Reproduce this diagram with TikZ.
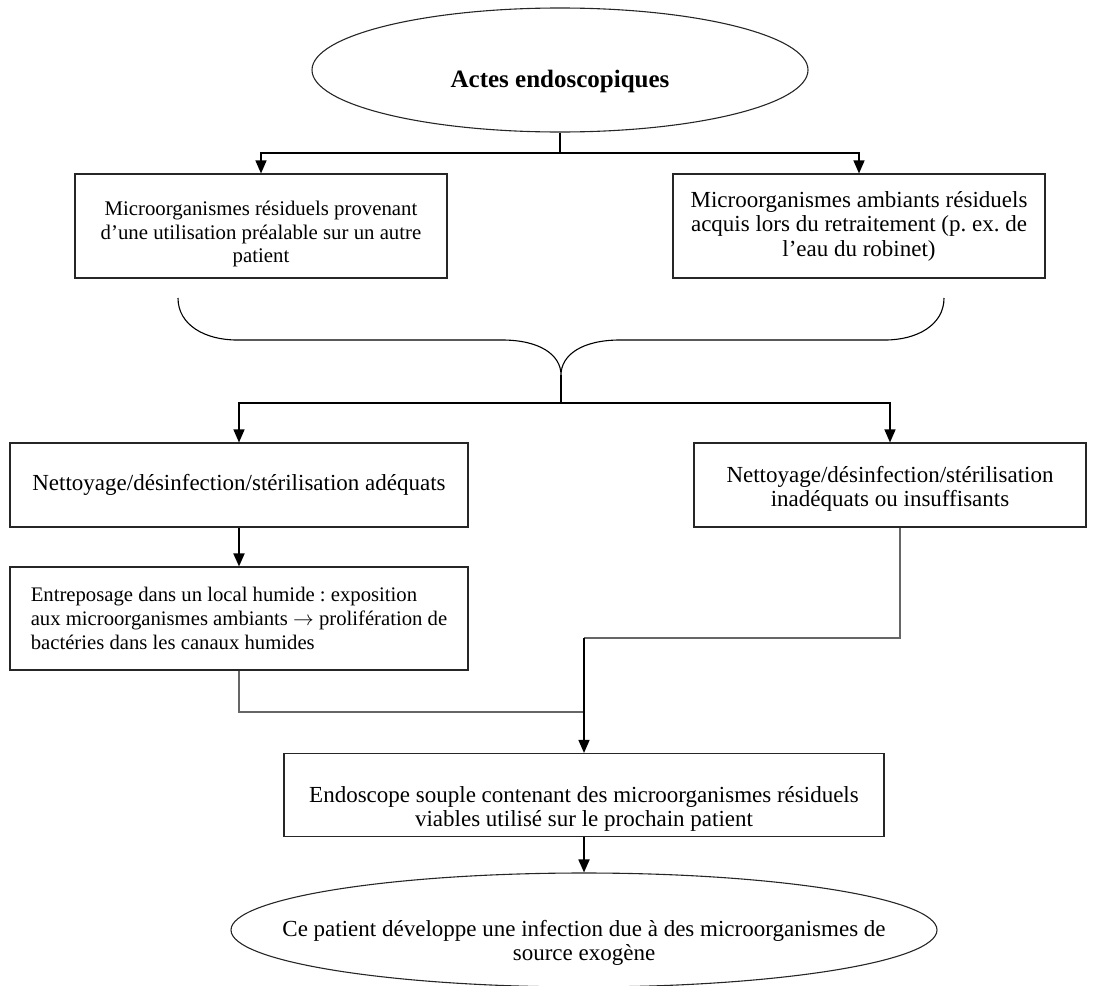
\documentclass[tikz,border=0pt]{standalone}
\usepackage{fontspec}
\setmainfont{Liberation Serif}
\usetikzlibrary{shapes.geometric, arrows.meta}

\newcommand{\boxfont}{\fontsize{23}{24.5}\selectfont\frenchspacing}
\newcommand{\smallboxfont}{\fontsize{20.8}{23.5}\selectfont\frenchspacing}
\newcommand{\textdrop}[1]{\rule{0pt}{#1}}

\begin{document}
\begin{tikzpicture}[x=1pt, y=-1pt]
    % Define styles for boxes and links
    \tikzset{
        stepbox/.style={draw=black!85, line width=1.1pt, rectangle, inner sep=0pt, align=center, font=\boxfont},
        ovalbox/.style={draw=black!85, line width=1.1pt, ellipse, inner sep=0pt, align=center, font=\boxfont},
        link/.style={draw=black, line width=1.4pt},
        arrowlink/.style={link, -{Triangle[width=11pt, length=13pt]}},
        greylink/.style={draw=black!60, line width=1.3pt}
    }
    \useasboundingbox (0,0) rectangle (1099,985);

    % ==========================================
    % TOP: ACTES AND TWO SOURCES
    % ==========================================
    \node[ovalbox, minimum width=496pt, minimum height=124pt,
          font=\fontsize{25}{26}\selectfont\bfseries] (actes) at (560,70) {\textdrop{40pt}Actes endoscopiques};

    \node[stepbox, minimum width=372pt, minimum height=104pt, font=\smallboxfont] (residus) at (261,226)
        {\textdrop{31pt}Microorganismes résiduels provenant\\d’une utilisation préalable sur un autre\\patient};
    \node[stepbox, minimum width=372pt, minimum height=104pt] (ambiants) at (859,226)
        {Microorganismes ambiants résiduels\\acquis lors du retraitement (p. ex. de\\l’eau du robinet)};

    \coordinate (split1) at (560,153);
    \draw[link] (actes.south) -- (split1);
    \draw[arrowlink] (split1) -| (residus.north);
    \draw[arrowlink] (split1) -| (ambiants.north);

    % 1. The brace joining both sources
    \coordinate (bracetip) at (561,375);
    \draw[link, line width=1.1pt] (178,298) .. controls (178,325) and (205,340) .. (237,340) -- (502,340)
        .. controls (540,340) and (561,355) .. (bracetip)
        .. controls (561,355) and (582,340) .. (620,340) -- (885,340)
        .. controls (917,340) and (944,325) .. (944,298);

    % ==========================================
    % MIDDLE: CLEANING OUTCOMES
    % ==========================================
    \node[stepbox, minimum width=458pt, minimum height=84pt] (adequats) at (239,485)
        {Nettoyage/désinfection/stérilisation adéquats};
    \node[stepbox, minimum width=392pt, minimum height=84pt] (inadequats) at (890,485)
        {\textdrop{24pt}Nettoyage/désinfection/stérilisation\\inadéquats ou insuffisants};
    \node[stepbox, minimum width=458pt, minimum height=103pt, align=left,
          font=\fontsize{20.7}{24}\selectfont\frenchspacing] (entrepos) at (239,618.5)
        {Entreposage dans un local humide : exposition\\aux microorganismes ambiants $\rightarrow$ prolifération de\\bactéries dans les canaux humides};

    \coordinate (split2) at (561,403);
    \draw[link] (bracetip) -- (split2);
    \draw[arrowlink] (split2) -| (adequats.north);
    \draw[arrowlink] (split2) -| (inadequats.north);
    \draw[arrowlink, line width=1.8pt] (adequats) -- (entrepos);

    % ==========================================
    % BOTTOM: ENDOSCOPE AND INFECTION
    % ==========================================
    \node[stepbox, minimum width=600pt, minimum height=83pt] (endoscope) at (584,795)
        {\textdrop{44pt}Endoscope souple contenant des microorganismes résiduels\\viables utilisé sur le prochain patient};
    \node[ovalbox, minimum width=706pt, minimum height=114pt, inner xsep=-60pt] (infection) at (584,930)
        {\textdrop{42pt}Ce patient développe une infection due à des microorganismes de\\source exogène};

    \coordinate (joinA) at (584,712);
    \coordinate (joinB) at (584,638);
    \draw[greylink] (entrepos.south) |- (joinA);
    \draw[greylink] ([xshift=10pt]inadequats.south) |- (joinB);
    \draw[arrowlink] (joinB) -- (endoscope.north);
    \draw[arrowlink, line width=1.8pt] (endoscope) -- (infection);

\end{tikzpicture}
\end{document}
